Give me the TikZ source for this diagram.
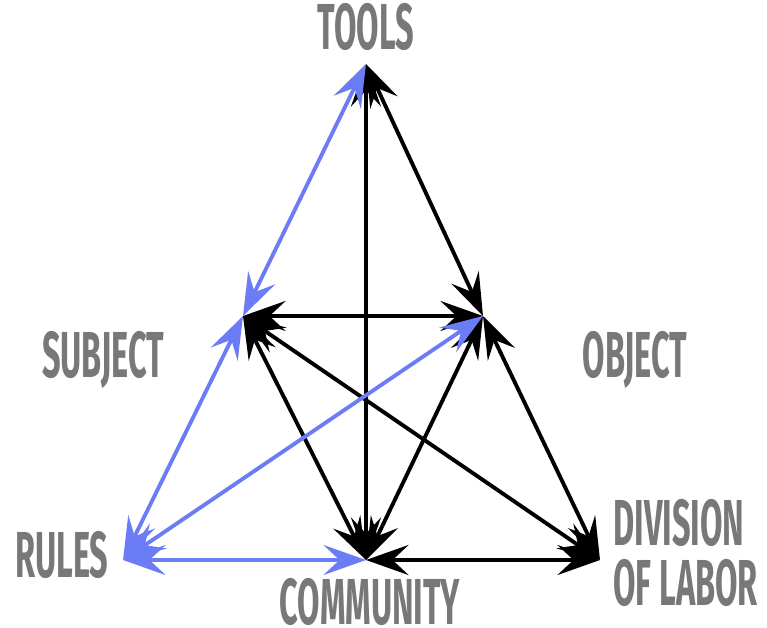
\documentclass[tikz,border=0pt]{standalone}
\usepackage{fontspec}
\setmainfont{Fira Sans}
\usetikzlibrary{arrows.meta}
\definecolor{labelgray}{RGB}{120,120,120}
\definecolor{linkblue}{RGB}{108,124,245}
\begin{document}
\begin{tikzpicture}[x=0.02cm,y=-0.02cm,
  lbl/.style={text=labelgray,font=\fontsize{37}{38}\selectfont\bfseries,inner sep=0pt,anchor=base},
  link/.style={line width=2.2pt,{Stealth[length=0.85cm,width=0.6cm,inset=0.32cm]}-{Stealth[length=0.85cm,width=0.6cm,inset=0.32cm]}},
  bluelink/.style={link,draw=linkblue,fill=linkblue}]

\useasboundingbox (0,0) rectangle (767,628);

% Corners
\coordinate (tools) at (366,64);
\coordinate (subject) at (243,316);
\coordinate (object) at (483,316);
\coordinate (rules) at (123,560);
\coordinate (community) at (366,560);
\coordinate (division) at (600,560);

% Labels
\node[lbl] (toolsLbl) at (366,50) {\scalebox{0.5}[1]{TOOLS}};
\node[lbl] (subjectLbl) at (103,377) {\scalebox{0.5}[1]{SUBJECT}};
\node[lbl] (objectLbl) at (635,377) {\scalebox{0.5}[1]{OBJECT}};
\node[lbl] (rulesLbl) at (62,577) {\scalebox{0.5}[1]{RULES}};
\node[lbl] (communityLbl) at (370,624) {\scalebox{0.5}[1]{COMMUNITY}};
\node[lbl,anchor=base west] (divisionLbl) at (613,545) {\scalebox{0.5}[1]{DIVISION}};
\node[lbl,anchor=base west] (laborLbl) at (613,605) {\scalebox{0.5}[1]{OF LABOR}};

% Black links
\draw[link] (tools) -- (object);
\draw[link] (tools) -- (community);
\draw[link] (subject) -- (object);
\draw[link] (subject) -- (community);
\draw[link] (subject) -- (division);
\draw[link] (object) -- (community);
\draw[link] (object) -- (division);
\draw[link] (community) -- (division);

% Blue links
\draw[bluelink] (tools) -- (subject);
\draw[bluelink] (subject) -- (rules);
\draw[bluelink] (rules) -- (object);
\draw[bluelink] (rules) -- (community);

\end{tikzpicture}
\end{document}
